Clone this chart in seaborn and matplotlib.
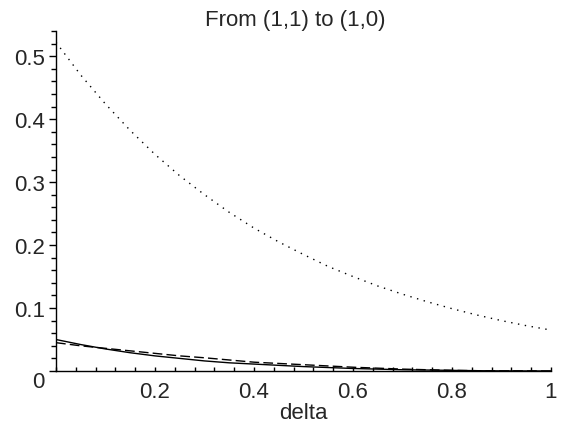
import matplotlib
matplotlib.use('Agg')
import matplotlib.pyplot as plt
import seaborn as sns
import numpy as np
from matplotlib.ticker import MultipleLocator, FixedLocator

# values
delta = [0.0, 0.05, 0.1, 0.15, 0.2, 0.25, 0.3, 0.35, 0.4, 0.45, 0.5,
         0.55, 0.6, 0.65, 0.7, 0.75, 0.8, 0.85, 0.9, 0.95, 1.0]
dotted_vals = [0.522, 0.470, 0.424, 0.382, 0.344, 0.310, 0.280, 0.252, 0.227, 0.205, 0.185,
               0.166, 0.150, 0.135, 0.122, 0.110, 0.099, 0.089, 0.080, 0.072, 0.065]
solid_vals = [0.050, 0.042, 0.035, 0.029, 0.024, 0.020, 0.016, 0.013, 0.011, 0.009, 0.007,
              0.0055, 0.004, 0.003, 0.002, 0.0015, 0.001, 0.0005, 0.0002, 0.0001, 0.0]
dashed_vals = [0.045, 0.040, 0.036, 0.032, 0.028, 0.024, 0.021, 0.0175, 0.014, 0.012, 0.010,
               0.008, 0.006, 0.0045, 0.003, 0.002, 0.001, 0.0005, 0.0002, 0.0001, 0.0]

xticks = [0.2, 0.4, 0.6, 0.8, 1.0]
xticklabels = ['0.2', '0.4', '0.6', '0.8', '1']
yticks = [0, 0.1, 0.2, 0.3, 0.4, 0.5]
yticklabels = ['0', '0.1', '0.2', '0.3', '0.4', '0.5']

sns.set_style('ticks')
plt.rcParams['font.family'] = ['Liberation Sans', 'DejaVu Sans']

fig = plt.figure(figsize=(5.61, 4.27), dpi=100)
ax = fig.add_axes([56/561, 55/427, 495/561, 340/427])

sns.lineplot(x=delta, y=dotted_vals, ax=ax, color='black', lw=1.0, linestyle=(0, (1, 4)))
sns.lineplot(x=delta, y=solid_vals, ax=ax, color='black', lw=1.0)
sns.lineplot(x=delta, y=dashed_vals, ax=ax, color='black', lw=1.0, linestyle=(0, (7, 3)))

ax.set_xlim(0, 1)
ax.set_ylim(0, 0.54)
sns.despine(ax=ax)
for s in ['left', 'bottom']:
    ax.spines[s].set_linewidth(1.0)
    ax.spines[s].set_color('black')

ax.set_xticks(xticks)
ax.set_xticklabels(xticklabels)
ax.xaxis.set_minor_locator(MultipleLocator(0.04))
ax.set_yticks(yticks)
ax.set_yticklabels(yticklabels)
ax.yaxis.set_minor_locator(MultipleLocator(0.02))
ax.get_yticklabels()[0].set_va('top')

ax.tick_params(axis='x', which='both', direction='in', length=3, width=1, pad=7,
               labelsize=16, color='black')
ax.tick_params(axis='y', which='major', direction='out', length=5, width=1, pad=3,
               labelsize=16, color='black')
ax.tick_params(axis='y', which='minor', direction='out', length=3.6, width=1, color='black')

ax.set_xlabel('delta', fontsize=16, labelpad=0)
ax.set_ylabel('')
ax.set_title('From (1,1) to (1,0)', fontsize=16, x=0.484, pad=4)

fig.savefig('out.png', dpi=100)
